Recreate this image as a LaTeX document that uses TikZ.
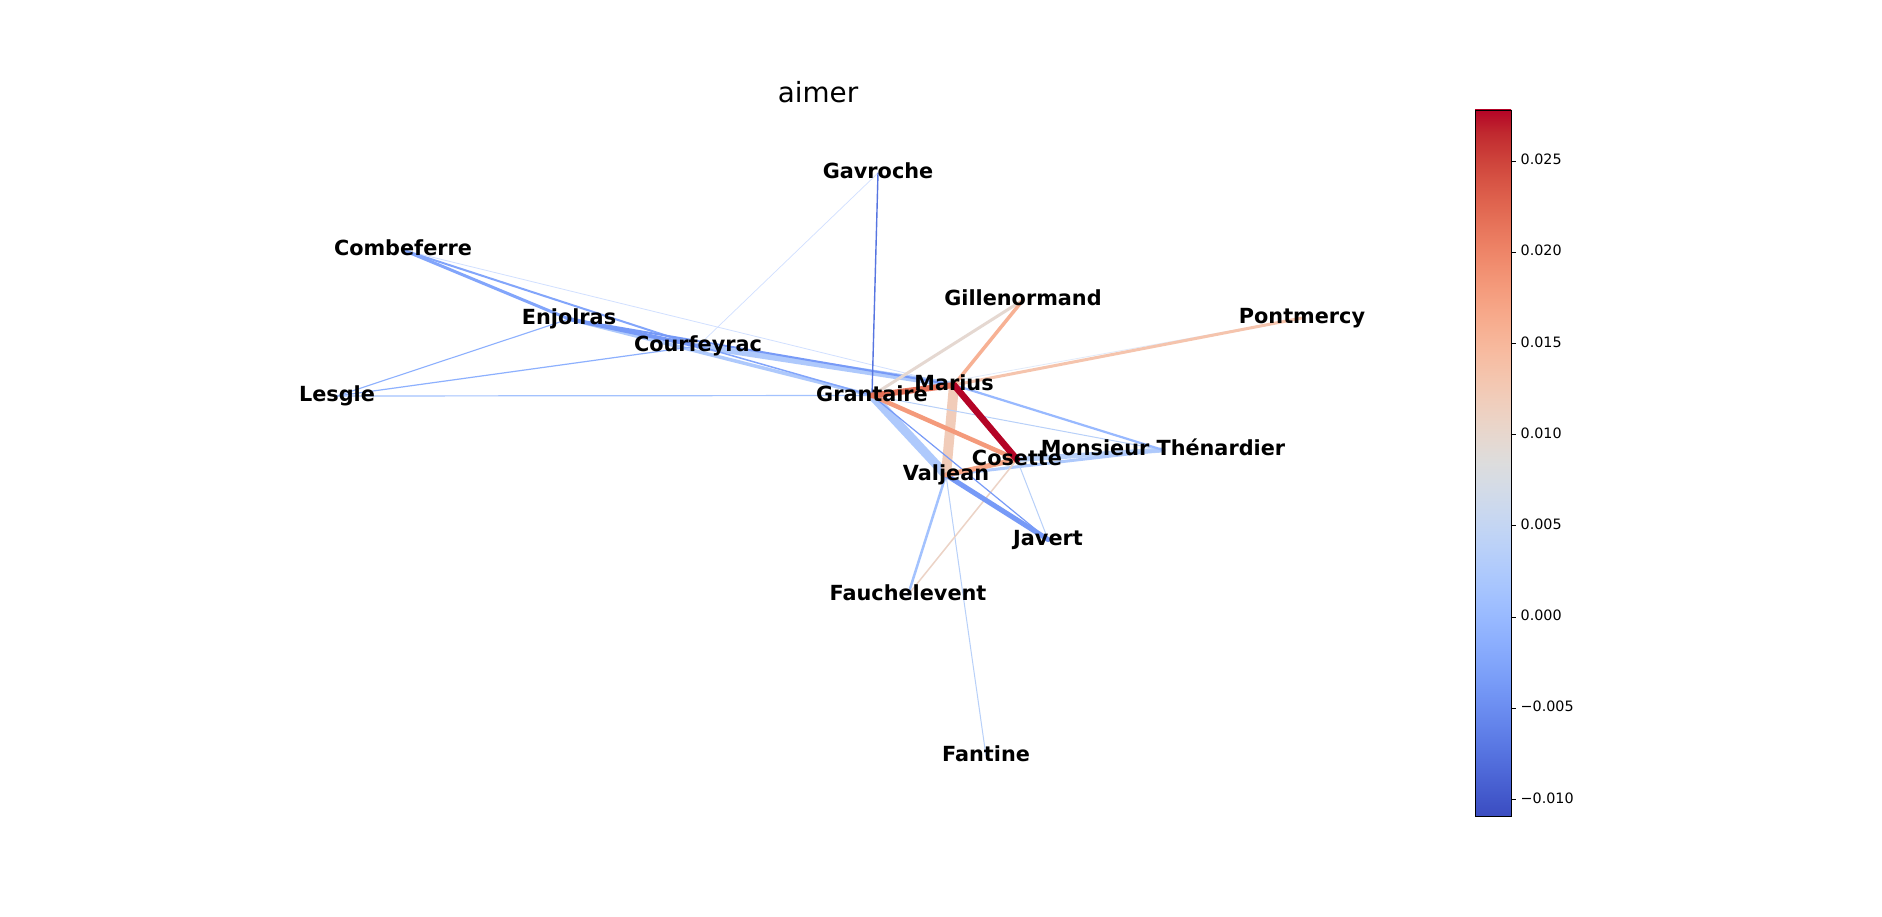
\documentclass[tikz,border=0pt]{standalone}
\usepackage{fontspec}
\setmainfont{DejaVu Sans}
\usetikzlibrary{backgrounds}
\definecolor{cw0}{rgb}{0.2298,0.2987,0.7537}
\definecolor{cw1}{rgb}{0.2662,0.3531,0.8015}
\definecolor{cw2}{rgb}{0.3039,0.4065,0.8450}
\definecolor{cw3}{rgb}{0.3428,0.4588,0.8837}
\definecolor{cw4}{rgb}{0.3830,0.5094,0.9174}
\definecolor{cw5}{rgb}{0.4244,0.5581,0.9456}
\definecolor{cw6}{rgb}{0.4667,0.6046,0.9682}
\definecolor{cw7}{rgb}{0.5096,0.6483,0.9848}
\definecolor{cw8}{rgb}{0.5530,0.6889,0.9954}
\definecolor{cw9}{rgb}{0.5963,0.7261,0.9998}
\definecolor{cw10}{rgb}{0.6392,0.7596,0.9982}
\definecolor{cw11}{rgb}{0.6813,0.7890,0.9904}
\definecolor{cw12}{rgb}{0.7222,0.8140,0.9766}
\definecolor{cw13}{rgb}{0.7615,0.8343,0.9569}
\definecolor{cw14}{rgb}{0.7987,0.8498,0.9317}
\definecolor{cw15}{rgb}{0.8335,0.8602,0.9011}
\definecolor{cw16}{rgb}{0.8654,0.8654,0.8654}
\definecolor{cw17}{rgb}{0.8978,0.8489,0.8209}
\definecolor{cw18}{rgb}{0.9241,0.8274,0.7745}
\definecolor{cw19}{rgb}{0.9445,0.8009,0.7267}
\definecolor{cw20}{rgb}{0.9589,0.7698,0.6780}
\definecolor{cw21}{rgb}{0.9673,0.7341,0.6288}
\definecolor{cw22}{rgb}{0.9700,0.6943,0.5794}
\definecolor{cw23}{rgb}{0.9668,0.6504,0.5303}
\definecolor{cw24}{rgb}{0.9580,0.6028,0.4818}
\definecolor{cw25}{rgb}{0.9437,0.5518,0.4342}
\definecolor{cw26}{rgb}{0.9239,0.4973,0.3880}
\definecolor{cw27}{rgb}{0.8990,0.4396,0.3432}
\definecolor{cw28}{rgb}{0.8692,0.3783,0.3003}
\definecolor{cw29}{rgb}{0.8346,0.3129,0.2593}
\definecolor{cw30}{rgb}{0.7956,0.2413,0.2205}
\definecolor{cw31}{rgb}{0.7525,0.1572,0.1841}
\definecolor{cw32}{rgb}{0.7057,0.0156,0.1502}
\begin{document}
\begin{tikzpicture}[x=1pt,y=-1pt,
  lbl/.style={font=\fontsize{20.8}{24}\selectfont\bfseries, inner sep=0pt, text height=15.8pt, text depth=4.8pt},
  ticklbl/.style={font=\fontsize{14.3}{16}\selectfont, inner sep=0pt, anchor=west, text height=10.6pt, text depth=3.2pt},
  edge/.style={line cap=round}]
\useasboundingbox (0,0) rectangle (1882,917);
\node[font=\fontsize{27.8}{32}\selectfont, inner sep=0pt, anchor=base] (title) at (818,102.7) {aimer};

\node[lbl] (gavroche) at (878,173) {Gavroche};
\node[lbl] (combeferre) at (403,250) {Combeferre};
\node[lbl] (enjolras) at (569,319) {Enjolras};
\node[lbl] (courfeyrac) at (698,346) {Courfeyrac};
\node[lbl] (lesgle) at (337,396) {Lesgle};
\node[lbl] (grantaire) at (872,395.5) {Grantaire};
\node[lbl] (marius) at (954,385) {Marius};
\node[lbl] (gillenormand) at (1023,300) {Gillenormand};
\node[lbl] (pontmercy) at (1302,318) {Pontmercy};
\node[lbl] (thenardier) at (1163,450) {Monsieur Thénardier};
\node[lbl] (cosette) at (1017,459.5) {Cosette};
\node[lbl] (valjean) at (946,475) {Valjean};
\node[lbl] (javert) at (1048,539.5) {Javert};
\node[lbl] (fauchelevent) at (908,595) {Fauchelevent};
\node[lbl] (fantine) at (986,756) {Fantine};

\begin{scope}[on background layer]
\fill[white] (0,0) rectangle (1882,917);
\draw[edge, cw9!45!white, line width=0.7] (gavroche.center) -- (courfeyrac.center);
\draw[edge, cw9!45!white, line width=0.8] (combeferre.center) -- (marius.center);
\draw[edge, cw13!50!white, line width=0.8] (grantaire.center) -- (pontmercy.center);
\draw[edge, cw11, line width=9] (grantaire.center) -- (valjean.center);
\draw[edge, cw19, line width=10] (marius.center) -- (valjean.center);
\draw[edge, cw11, line width=6] (courfeyrac.center) -- (marius.center);
\draw[edge, cw11, line width=3.5] (enjolras.center) -- (grantaire.center);
\draw[edge, cw12, line width=5] (cosette.center) -- (thenardier.center);
\draw[edge, cw11, line width=3] (valjean.center) -- (thenardier.center);
\draw[edge, cw12, line width=1] (grantaire.center) -- (thenardier.center);
\draw[edge, cw9, line width=2.2] (marius.center) -- (thenardier.center);
\draw[edge, cw12, line width=1] (cosette.center) -- (javert.center);
\draw[edge, cw12, line width=1] (valjean.center) -- (fantine.center);
\draw[edge, cw10, line width=2.5] (valjean.center) -- (fauchelevent.center);
\draw[edge, cw18, line width=1.5] (cosette.center) -- (fauchelevent.center);
\draw[edge, cw8, line width=1.1] (enjolras.center) -- (lesgle.center);
\draw[edge, cw8, line width=1.2] (courfeyrac.center) -- (lesgle.center);
\draw[edge, cw10, line width=1.2] (grantaire.center) -- (lesgle.center);
\draw[edge, cw7, line width=3] (combeferre.center) -- (enjolras.center);
\draw[edge, cw7, line width=2] (combeferre.center) -- (courfeyrac.center);
\draw[edge, cw6, line width=4] (enjolras.center) -- (courfeyrac.center);
\draw[edge, cw6, line width=2] (enjolras.center) -- (marius.center);
\draw[edge, cw7, line width=1.5] (courfeyrac.center) -- (grantaire.center);
\draw[edge, cw3, line width=1.4] (gavroche.center) -- (grantaire.center);
\draw[edge, cw6, line width=1.2] (grantaire.center) -- (javert.center);
\draw[edge, cw6, line width=5] (valjean.center) -- (javert.center);
\draw[edge, cw17, line width=3] (grantaire.center) -- (gillenormand.center);
\draw[edge, cw22, line width=3.5] (marius.center) -- (gillenormand.center);
\draw[edge, cw20, line width=3] (marius.center) -- (pontmercy.center);
\draw[edge, cw24, line width=4.5] (grantaire.center) -- (cosette.center);
\draw[edge, cw23, line width=5] (valjean.center) -- (cosette.center);
\draw[edge, cw27, line width=6] (grantaire.center) -- (marius.center);
\draw[edge, cw32, line width=6.5] (marius.center) -- (cosette.center);
\end{scope}

% colour bar
\foreach \k in {0,...,31} {
  \pgfmathtruncatemacro{\kk}{\k+1}
  \shade[bottom color=cw\k, top color=cw\kk] (1475,{816-\k*22.0625+0.2}) rectangle (1511,{816-(\k+1)*22.0625-0.2});
}
\draw[line width=0.8] (1475,110) rectangle (1511,816);
\foreach \v/\y in {0.025/161.1, 0.020/252.3, 0.015/343.5, 0.010/434.6, 0.005/525.8, 0.000/617.0, −0.005/708.1, −0.010/799.3} {
  \draw[line width=0.8] (1511,\y) -- (1516,\y);
  \node[ticklbl] at (1520.5,\y) {\v};
}
\end{tikzpicture}
\end{document}
